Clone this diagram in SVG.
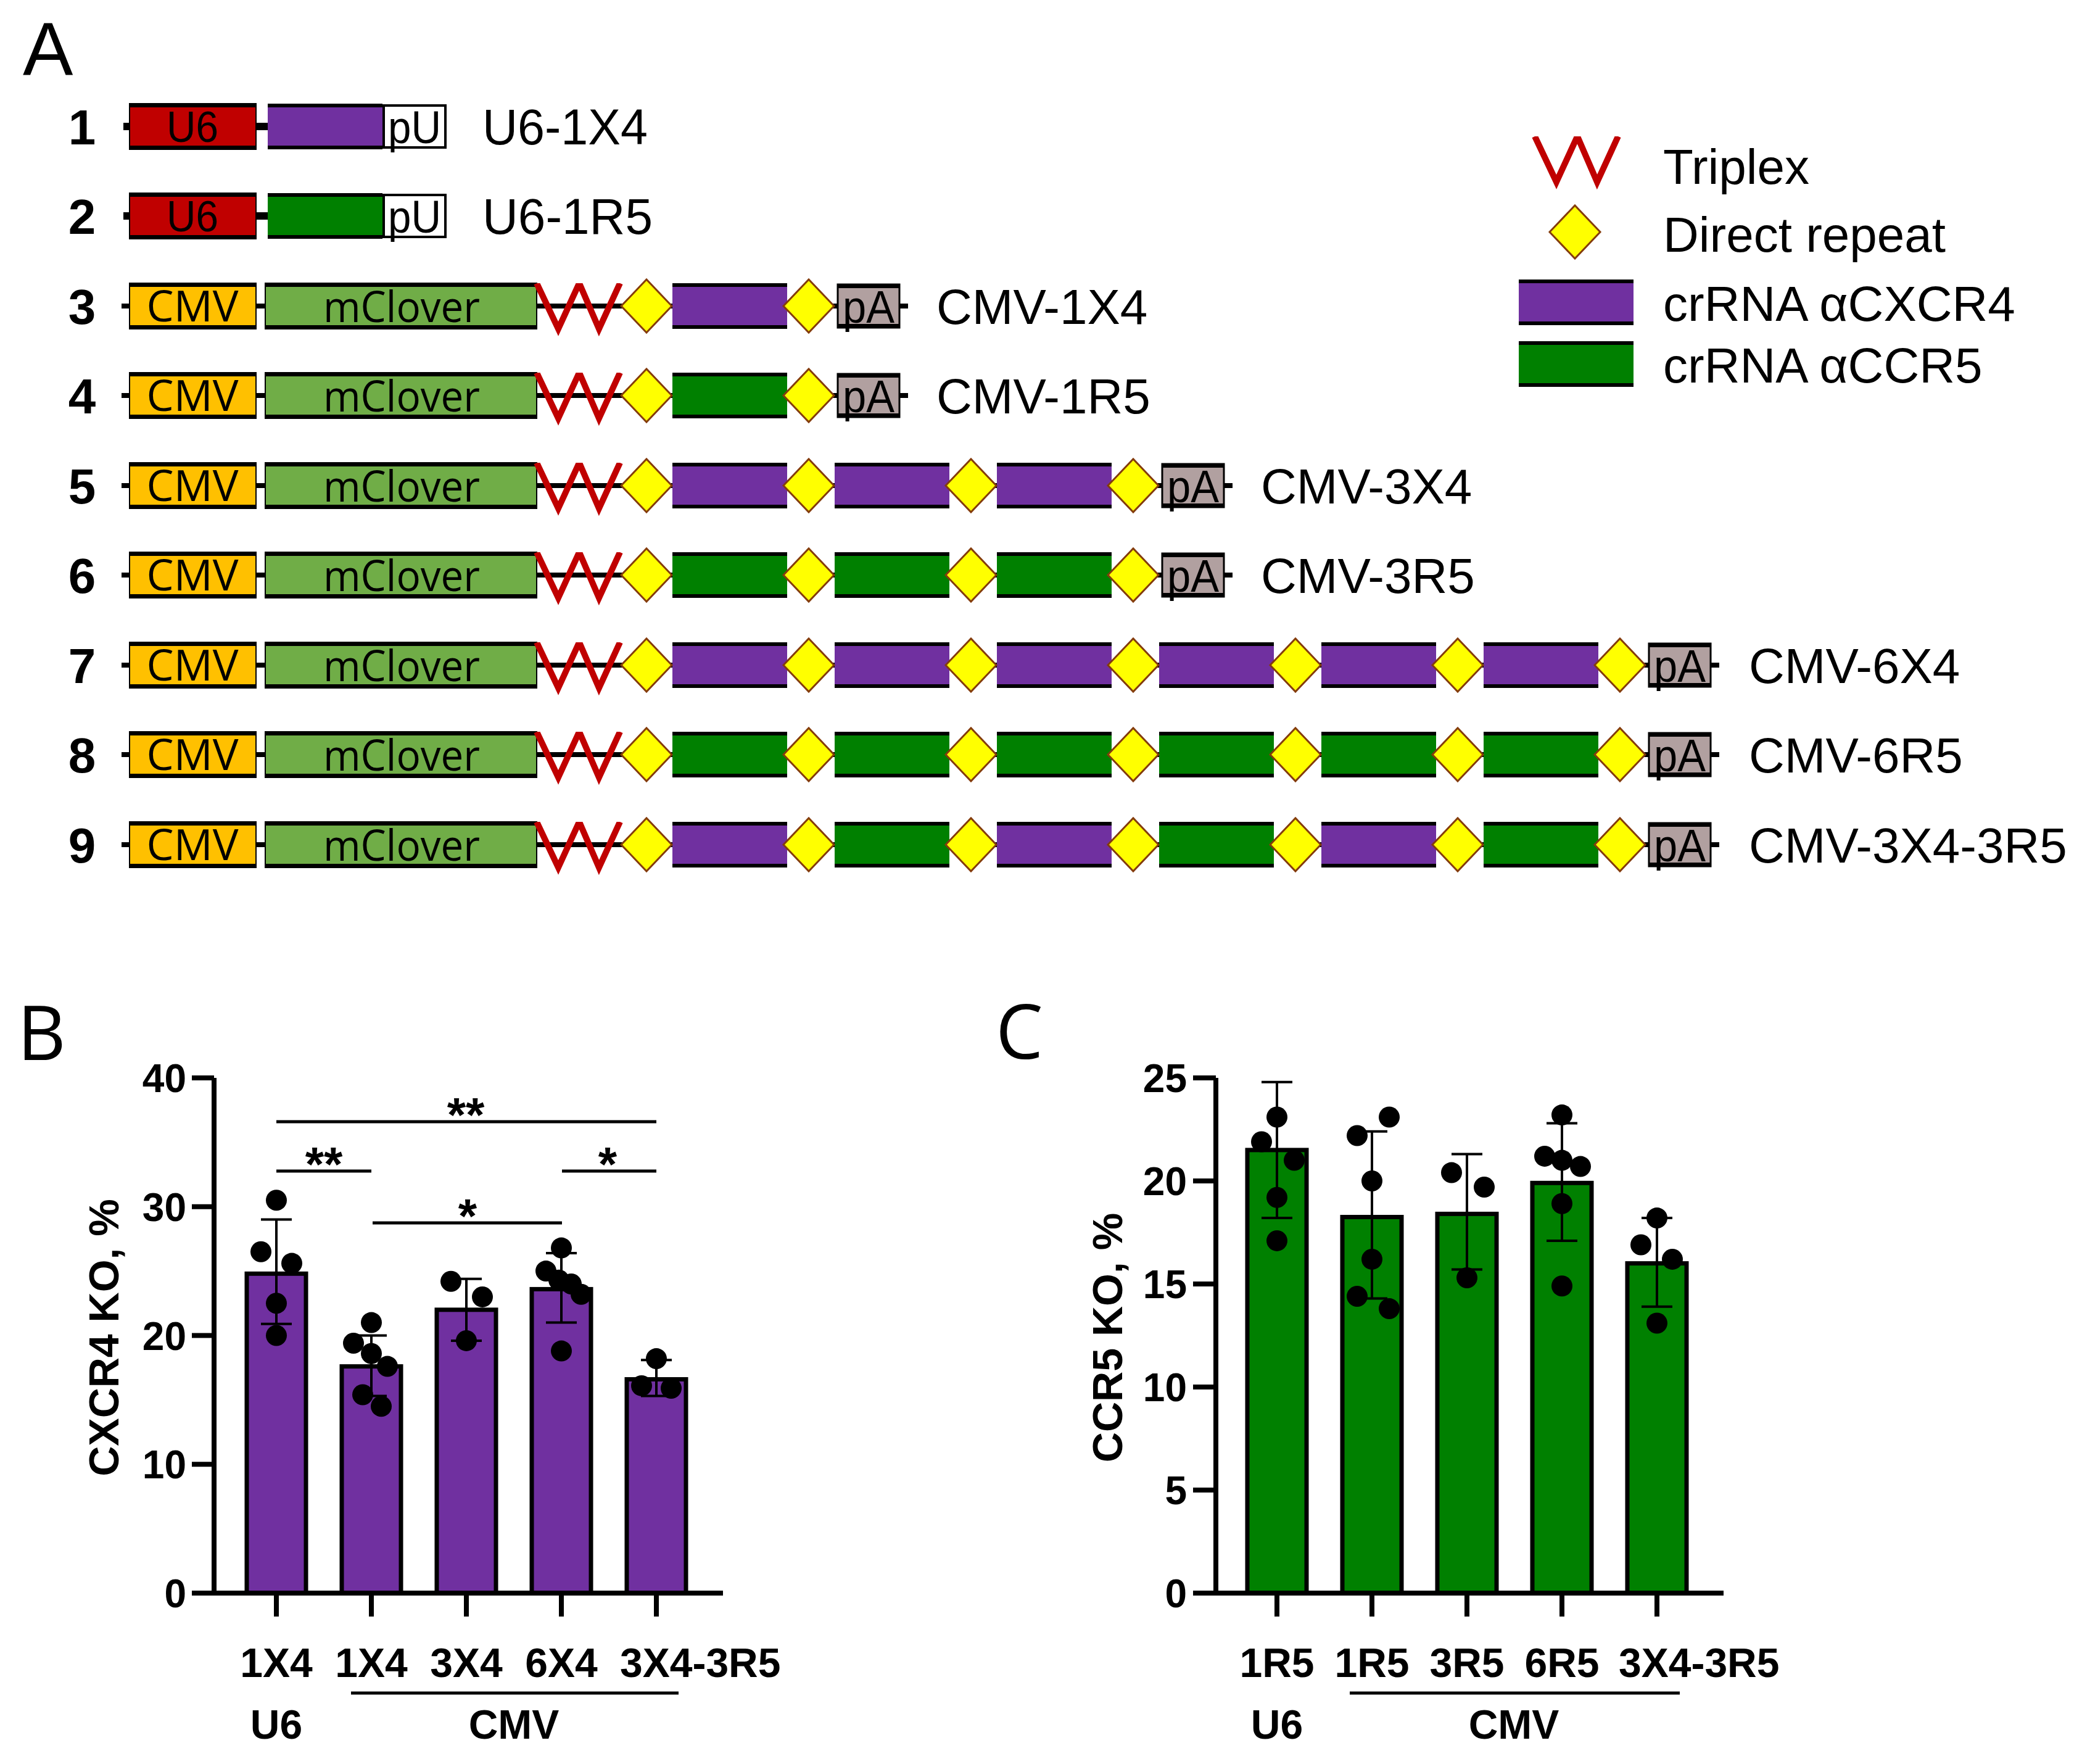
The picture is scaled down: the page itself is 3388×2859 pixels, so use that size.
<svg xmlns="http://www.w3.org/2000/svg" width="3388" height="2859" viewBox="0 0 3388 2859">
<style>
text{font-family:"Liberation Sans",Arial,sans-serif;fill:#000}
.num{font-size:80px;font-weight:bold;text-anchor:middle}
.lab{font-size:80px}
.bx{font-size:70px;text-anchor:middle}
.bo{font-family:"Open Sans","Liberation Sans",sans-serif;font-size:70px;text-anchor:middle}
.bb{stroke:#000;stroke-width:8;fill:none}
.edge{stroke:#000;stroke-width:6;fill:none}
.ax{stroke:#000;stroke-width:8;fill:none}
.eb{stroke:#000;stroke-width:4;fill:none}
.sl{stroke:#000;stroke-width:5;fill:none}
.tk{font-size:64px;font-weight:bold;text-anchor:end}
.xl{font-size:66px;font-weight:bold;text-anchor:middle}
.xs{font-size:66px;font-weight:bold}
.ttl{font-size:68px;font-weight:bold;text-anchor:middle}
.sig{font-size:78px;font-weight:bold;text-anchor:middle}
.dot{fill:#000}
.barB{fill:#7030A0;stroke:#000;stroke-width:7}
.barC{fill:#008000;stroke:#000;stroke-width:7}
.panel{font-family:"Open Sans","Liberation Sans",sans-serif;font-size:122px}
</style>
<defs>
<clipPath id="tc"><rect x="-12" y="-37" width="160" height="90"/></clipPath>
<g id="tri" clip-path="url(#tc)"><polyline points="0,-37 35,37 69,-37 101,37 135,-37" fill="none" stroke="#C00000" stroke-width="10"/></g>
<polygon id="dr" points="-41,0 0,-43 41,0 0,43" fill="#FFFF00" stroke="#843C0C" stroke-width="3"/>
<g id="x4"><rect x="0" y="-37" width="186" height="74" fill="#7030A0"/><path d="M0,-34H186M0,34H186" class="edge"/></g>
<g id="r5"><rect x="0" y="-37" width="186" height="74" fill="#008000"/><path d="M0,-34H186M0,34H186" class="edge"/></g>
<g id="u6"><rect x="0" y="-37" width="205" height="74" fill="#C00000" stroke="#000" stroke-width="2"/><path d="M0,-34H205M0,34H205" class="edge"/><text x="102" y="25" class="bx" textLength="84" lengthAdjust="spacingAndGlyphs">U6</text></g>
<g id="cmv"><rect x="0" y="-37" width="205" height="74" fill="#FFC000" stroke="#000" stroke-width="2"/><path d="M0,-34H205M0,34H205" class="edge"/><text x="102" y="25" class="bo" textLength="149" lengthAdjust="spacingAndGlyphs">CMV</text></g>
<g id="mcl"><rect x="0" y="-37" width="440" height="74" fill="#70AD47" stroke="#000" stroke-width="2"/><path d="M0,-34H440M0,34H440" class="edge"/><text x="221" y="26" class="bo" textLength="254" lengthAdjust="spacingAndGlyphs">mClover</text></g>
<g id="pa"><rect x="0" y="-35" width="100" height="70" fill="#B1A0A0" stroke="#000" stroke-width="3"/><path d="M0,-32H100M0,32H100" class="edge"/><text x="50" y="27" class="bx" style="font-size:74px" textLength="84" lengthAdjust="spacingAndGlyphs">pA</text></g>
<g id="pu"><rect x="0" y="-34" width="100" height="68" fill="#FFFFFF" stroke="#000" stroke-width="4"/><text x="50" y="27" class="bx" style="font-size:74px" textLength="86" lengthAdjust="spacingAndGlyphs">pU</text></g>
</defs>
<rect width="3388" height="2859" fill="#FFFFFF"/>

<text x="37" y="122" style="font-size:122px">A</text>

<g id="row1">
<text class="num" x="133" y="234">1</text>
<line class="bb" x1="200" y1="205" x2="622" y2="205" style="stroke-width:12"/>
<use href="#u6" x="210" y="205"/><use href="#x4" x="434" y="205"/><use href="#pu" x="622" y="205"/>
<text class="lab" x="782" y="234" style="font-size:82px" textLength="268" lengthAdjust="spacingAndGlyphs">U6-1X4</text>
</g>
<g id="row2">
<text class="num" x="133" y="379">2</text>
<line class="bb" x1="200" y1="350" x2="622" y2="350" style="stroke-width:12"/>
<use href="#u6" x="210" y="350"/><use href="#r5" x="434" y="350"/><use href="#pu" x="622" y="350"/>
<text class="lab" x="782" y="379" style="font-size:82px" textLength="276" lengthAdjust="spacingAndGlyphs">U6-1R5</text>
</g>
<g id="row3">
<text class="num" x="133" y="525">3</text>
<line class="bb" x1="197" y1="496" x2="1472" y2="496"/>
<use href="#cmv" x="210" y="496"/><use href="#mcl" x="430" y="496"/><use href="#tri" x="870" y="496"/>
<use href="#x4" x="1090" y="496"/>
<use href="#dr" x="1048" y="496"/><use href="#dr" x="1311" y="496"/>
<use href="#pa" x="1358" y="496"/>
<text class="lab" x="1518" y="525">CMV-1X4</text>
</g>
<g id="row4">
<text class="num" x="133" y="670">4</text>
<line class="bb" x1="197" y1="641" x2="1472" y2="641"/>
<use href="#cmv" x="210" y="641"/><use href="#mcl" x="430" y="641"/><use href="#tri" x="870" y="641"/>
<use href="#r5" x="1090" y="641"/>
<use href="#dr" x="1048" y="641"/><use href="#dr" x="1311" y="641"/>
<use href="#pa" x="1358" y="641"/>
<text class="lab" x="1518" y="670">CMV-1R5</text>
</g>
<g id="row5">
<text class="num" x="133" y="816">5</text>
<line class="bb" x1="197" y1="787" x2="1998" y2="787"/>
<use href="#cmv" x="210" y="787"/><use href="#mcl" x="430" y="787"/><use href="#tri" x="870" y="787"/>
<use href="#x4" x="1090" y="787"/><use href="#x4" x="1353" y="787"/><use href="#x4" x="1616" y="787"/>
<use href="#dr" x="1048" y="787"/><use href="#dr" x="1311" y="787"/><use href="#dr" x="1574" y="787"/><use href="#dr" x="1837" y="787"/>
<use href="#pa" x="1884" y="787"/>
<text class="lab" x="2044" y="816">CMV-3X4</text>
</g>
<g id="row6">
<text class="num" x="133" y="961">6</text>
<line class="bb" x1="197" y1="932" x2="1998" y2="932"/>
<use href="#cmv" x="210" y="932"/><use href="#mcl" x="430" y="932"/><use href="#tri" x="870" y="932"/>
<use href="#r5" x="1090" y="932"/><use href="#r5" x="1353" y="932"/><use href="#r5" x="1616" y="932"/>
<use href="#dr" x="1048" y="932"/><use href="#dr" x="1311" y="932"/><use href="#dr" x="1574" y="932"/><use href="#dr" x="1837" y="932"/>
<use href="#pa" x="1884" y="932"/>
<text class="lab" x="2044" y="961">CMV-3R5</text>
</g>
<g id="row7">
<text class="num" x="133" y="1107">7</text>
<line class="bb" x1="197" y1="1078" x2="2787" y2="1078"/>
<use href="#cmv" x="210" y="1078"/><use href="#mcl" x="430" y="1078"/><use href="#tri" x="870" y="1078"/>
<use href="#x4" x="1090" y="1078"/><use href="#x4" x="1353" y="1078"/><use href="#x4" x="1616" y="1078"/><use href="#x4" x="1879" y="1078"/><use href="#x4" x="2142" y="1078"/><use href="#x4" x="2405" y="1078"/>
<use href="#dr" x="1048" y="1078"/><use href="#dr" x="1311" y="1078"/><use href="#dr" x="1574" y="1078"/><use href="#dr" x="1837" y="1078"/><use href="#dr" x="2100" y="1078"/><use href="#dr" x="2363" y="1078"/><use href="#dr" x="2626" y="1078"/>
<use href="#pa" x="2673" y="1078"/>
<text class="lab" x="2835" y="1107">CMV-6X4</text>
</g>
<g id="row8">
<text class="num" x="133" y="1252">8</text>
<line class="bb" x1="197" y1="1223" x2="2787" y2="1223"/>
<use href="#cmv" x="210" y="1223"/><use href="#mcl" x="430" y="1223"/><use href="#tri" x="870" y="1223"/>
<use href="#r5" x="1090" y="1223"/><use href="#r5" x="1353" y="1223"/><use href="#r5" x="1616" y="1223"/><use href="#r5" x="1879" y="1223"/><use href="#r5" x="2142" y="1223"/><use href="#r5" x="2405" y="1223"/>
<use href="#dr" x="1048" y="1223"/><use href="#dr" x="1311" y="1223"/><use href="#dr" x="1574" y="1223"/><use href="#dr" x="1837" y="1223"/><use href="#dr" x="2100" y="1223"/><use href="#dr" x="2363" y="1223"/><use href="#dr" x="2626" y="1223"/>
<use href="#pa" x="2673" y="1223"/>
<text class="lab" x="2835" y="1252">CMV-6R5</text>
</g>
<g id="row9">
<text class="num" x="133" y="1398">9</text>
<line class="bb" x1="197" y1="1369" x2="2787" y2="1369"/>
<use href="#cmv" x="210" y="1369"/><use href="#mcl" x="430" y="1369"/><use href="#tri" x="870" y="1369"/>
<use href="#x4" x="1090" y="1369"/><use href="#r5" x="1353" y="1369"/><use href="#x4" x="1616" y="1369"/><use href="#r5" x="1879" y="1369"/><use href="#x4" x="2142" y="1369"/><use href="#r5" x="2405" y="1369"/>
<use href="#dr" x="1048" y="1369"/><use href="#dr" x="1311" y="1369"/><use href="#dr" x="1574" y="1369"/><use href="#dr" x="1837" y="1369"/><use href="#dr" x="2100" y="1369"/><use href="#dr" x="2363" y="1369"/><use href="#dr" x="2626" y="1369"/>
<use href="#pa" x="2673" y="1369"/>
<text class="lab" x="2835" y="1398">CMV-3X4-3R5</text>
</g>

<g id="legend">
<use href="#tri" x="2488" y="258"/>
<text class="lab" x="2696" y="298">Triplex</text>
<use href="#dr" x="2553" y="376"/>
<text class="lab" x="2696" y="408">Direct repeat</text>
<use href="#x4" x="2462" y="490"/>
<text class="lab" x="2696" y="520">crRNA αCXCR4</text>
<use href="#r5" x="2462" y="590"/>
<text class="lab" x="2696" y="620">crRNA αCCR5</text>
</g>

<g id="panelB">
<text class="panel" x="28" y="1718">B</text>
<g id="B-bars">
<rect class="barB" x="400" y="2064.3" width="96" height="517.7"/>
<rect class="barB" x="554" y="2214.6" width="96" height="367.4"/>
<rect class="barB" x="708" y="2122.8" width="96" height="459.2"/>
<rect class="barB" x="862" y="2089.4" width="96" height="492.6"/>
<rect class="barB" x="1016" y="2235.5" width="96" height="346.5"/>
</g>
<g id="B-errors" class="eb">
<path d="M448,2145.7V1976.6M423,1976.6H473M423,2145.7H473"/>
<path d="M602,2262.6V2164.5M577,2164.5H627M577,2262.6H627"/>
<path d="M756,2172.9V2072.7M731,2072.7H781M731,2172.9H781"/>
<path d="M910,2143.6V2030.9M885,2030.9H935M885,2143.6H935"/>
<path d="M1064,2262.6V2204.2M1039,2204.2H1089M1039,2262.6H1089"/>
</g>
<g id="B-dots" class="dot">
<circle cx="448" cy="1945.3" r="17"/><circle cx="423" cy="2028.8" r="17"/><circle cx="473" cy="2047.6" r="17"/><circle cx="448" cy="2112.3" r="17"/><circle cx="448" cy="2164.5" r="17"/>
<circle cx="602" cy="2143.6" r="17"/><circle cx="573" cy="2177" r="17"/><circle cx="602" cy="2193.7" r="17"/><circle cx="628" cy="2214.6" r="17"/><circle cx="588" cy="2260.5" r="17"/><circle cx="618" cy="2279.3" r="17"/>
<circle cx="731" cy="2076.8" r="17"/><circle cx="782" cy="2101.9" r="17"/><circle cx="756" cy="2172.9" r="17"/>
<circle cx="910" cy="2022.6" r="17"/><circle cx="885" cy="2060.1" r="17"/><circle cx="906" cy="2074.7" r="17"/><circle cx="926" cy="2081" r="17"/><circle cx="942" cy="2097.7" r="17"/><circle cx="910" cy="2189.6" r="17"/>
<circle cx="1064" cy="2202.1" r="17"/><circle cx="1040" cy="2245.9" r="17"/><circle cx="1088" cy="2250.1" r="17"/>
</g>
<g id="B-axes" class="ax">
<path d="M347,1747V2582M311,2582H1172"/>
<path d="M311,1747H347M311,1955.8H347M311,2164.5H347M311,2373.3H347"/>
<path d="M448,2582V2620M602,2582V2620M756,2582V2620M910,2582V2620M1064,2582V2620"/>
</g>
<g id="B-ticklabels">
<text class="tk" x="302" y="1770">40</text>
<text class="tk" x="302" y="1979">30</text>
<text class="tk" x="302" y="2188">20</text>
<text class="tk" x="302" y="2396">10</text>
<text class="tk" x="302" y="2605">0</text>
</g>
<text class="ttl" transform="translate(192,2168) rotate(-90)">CXCR4 KO, %</text>
<g id="B-sig">
<path class="sl" d="M448,1818H1064M448,1898H602M911,1898H1064M604,1982H911"/>
<text class="sig" x="755" y="1834">**</text>
<text class="sig" x="525" y="1914">**</text>
<text class="sig" x="985" y="1914">*</text>
<text class="sig" x="758" y="1998">*</text>
</g>
<g id="B-xlabels">
<text class="xl" x="448" y="2718">1X4</text>
<text class="xl" x="602" y="2718">1X4</text>
<text class="xl" x="756" y="2718">3X4</text>
<text class="xl" x="910" y="2718">6X4</text>
<text class="xs" x="1005" y="2718">3X4-3R5</text>
<path class="ax" d="M569,2744H1100" style="stroke-width:5"/>
<text class="xl" x="448" y="2818">U6</text>
<text class="xl" x="833" y="2818">CMV</text>
</g>
</g>

<g id="panelC">
<text class="panel" x="1614" y="1716">C</text>
<g id="C-bars">
<rect class="barC" x="2022" y="1863.9" width="96" height="718.1"/>
<rect class="barC" x="2176" y="1972.5" width="96" height="609.5"/>
<rect class="barC" x="2330" y="1967.4" width="96" height="614.6"/>
<rect class="barC" x="2484" y="1917.3" width="96" height="664.7"/>
<rect class="barC" x="2638" y="2047.6" width="96" height="534.4"/>
</g>
<g id="C-errors" class="eb">
<path d="M2070,1974.1V1753.7M2045,1753.7H2095M2045,1974.1H2095"/>
<path d="M2224,2104.4V1833.8M2199,1833.8H2249M2199,2104.4H2249"/>
<path d="M2378,2057.6V1870.6M2353,1870.6H2403M2353,2057.6H2403"/>
<path d="M2532,2010.9V1820.5M2507,1820.5H2557M2507,2010.9H2557"/>
<path d="M2686,2117.7V1974.1M2661,1974.1H2711M2661,2117.7H2711"/>
</g>
<g id="C-dots" class="dot">
<circle cx="2070" cy="1810.5" r="17"/><circle cx="2045" cy="1850.5" r="17"/><circle cx="2098" cy="1880.6" r="17"/><circle cx="2070" cy="1940.7" r="17"/><circle cx="2070" cy="2010.9" r="17"/>
<circle cx="2252" cy="1810.5" r="17"/><circle cx="2200" cy="1840.5" r="17"/><circle cx="2224" cy="1914" r="17"/><circle cx="2224" cy="2040.9" r="17"/><circle cx="2200" cy="2101" r="17"/><circle cx="2252" cy="2121.1" r="17"/>
<circle cx="2353" cy="1900.6" r="17"/><circle cx="2406" cy="1924" r="17"/><circle cx="2378" cy="2071" r="17"/>
<circle cx="2532" cy="1807.1" r="17"/><circle cx="2504" cy="1873.9" r="17"/><circle cx="2532" cy="1880.6" r="17"/><circle cx="2562" cy="1890.6" r="17"/><circle cx="2532" cy="1950.7" r="17"/><circle cx="2532" cy="2084.3" r="17"/>
<circle cx="2686" cy="1974.1" r="17"/><circle cx="2660" cy="2017.5" r="17"/><circle cx="2711" cy="2040.9" r="17"/><circle cx="2686" cy="2144.5" r="17"/>
</g>
<g id="C-axes" class="ax">
<path d="M1971,1747V2582M1934,2582H2794"/>
<path d="M1934,1747H1971M1934,1914H1971M1934,2081H1971M1934,2248H1971M1934,2415H1971"/>
<path d="M2070,2582V2620M2224,2582V2620M2378,2582V2620M2532,2582V2620M2686,2582V2620"/>
</g>
<g id="C-ticklabels">
<text class="tk" x="1924" y="1770">25</text>
<text class="tk" x="1924" y="1937">20</text>
<text class="tk" x="1924" y="2104">15</text>
<text class="tk" x="1924" y="2271">10</text>
<text class="tk" x="1924" y="2438">5</text>
<text class="tk" x="1924" y="2605">0</text>
</g>
<text class="ttl" transform="translate(1819,2168) rotate(-90)">CCR5 KO, %</text>
<g id="C-xlabels">
<text class="xl" x="2070" y="2718">1R5</text>
<text class="xl" x="2224" y="2718">1R5</text>
<text class="xl" x="2378" y="2718">3R5</text>
<text class="xl" x="2532" y="2718">6R5</text>
<text class="xs" x="2624" y="2718">3X4-3R5</text>
<path class="ax" d="M2188,2744H2723" style="stroke-width:5"/>
<text class="xl" x="2070" y="2818">U6</text>
<text class="xl" x="2454" y="2818">CMV</text>
</g>
</g>
</svg>
